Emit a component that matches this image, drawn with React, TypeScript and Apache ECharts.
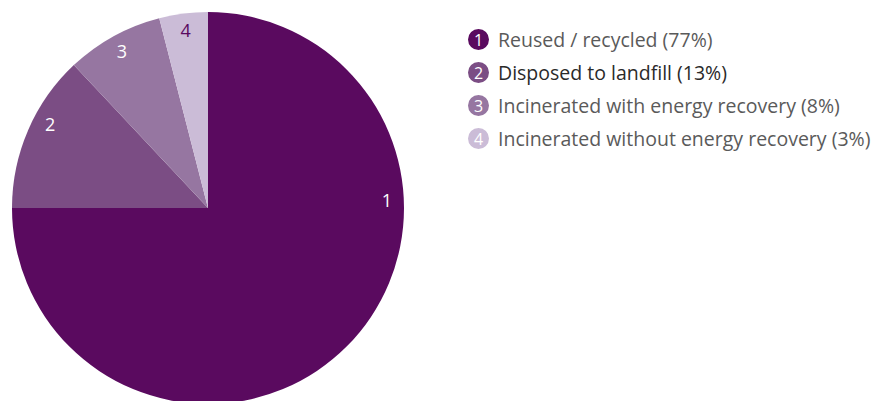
import React, { useEffect, useRef } from "react";
import * as echarts from "echarts";

const names = [
  "Reused / recycled (77%)",
  "Disposed to landfill (13%)",
  "Incinerated with energy recovery (8%)",
  "Incinerated without energy recovery (3%)",
];
const values = [75, 13, 8, 4];
const numbers = ["1", "2", "3", "4"];
const colors = ["#5a0a5f", "#7b4d84", "#9676a1", "#cbbcd7"];
const labelColors = ["#ffffff", "#ffffff", "#ffffff", "#5a0a5f"];
const legendTextColors = ["#5a5a5a", "#2a2a2a", "#5a5a5a", "#5a5a5a"];
// where, along each slice (0 = its start, clockwise), the number label sits
const labelAt = [0.324, 0.6, 0.5, 0.5];

const FONT = "'Open Sans', 'Noto Sans', sans-serif";

export default function App() {
  const ref = useRef<HTMLDivElement>(null);
  useEffect(() => {
    if (!ref.current) return;
    const chart = echarts.init(ref.current, null, { renderer: "svg" });

    const rich: any = {};
    colors.forEach((c, i) => {
      rich["c" + i] = {
        width: 21,
        height: 21,
        lineHeight: 21,
        borderRadius: 10.5,
        backgroundColor: c,
        color: "#ffffff",
        align: "center",
        fontSize: 16,
        fontFamily: FONT,
      };
      rich["t" + i] = {
        color: legendTextColors[i],
        fontSize: 19.5,
        fontFamily: FONT,
        fontWeight: i === 1 ? 500 : 400,
        padding: [0, 0, 0, 9],
      };
    });

    // transparent overlay ring carrying the number labels; each slice is split
    // so that the label sits at the chosen point along the slice
    const overlayData: any[] = [];
    values.forEach((v, i) => {
      const p = labelAt[i];
      const labeled = p <= 0.5 ? 2 * p : 2 * (1 - p);
      const before = p <= 0.5 ? 0 : 1 - labeled;
      const after = 1 - labeled - before;
      if (before > 0) overlayData.push({ value: v * before, name: `b${i}`, label: { show: false } });
      overlayData.push({
        value: v * labeled,
        name: `l${i}`,
        label: { show: true, formatter: numbers[i], color: labelColors[i] },
      });
      if (after > 1e-9) overlayData.push({ value: v * after, name: `a${i}`, label: { show: false } });
    });

    chart.setOption({
      animation: false,
      legend: {
        orient: "vertical",
        left: 458,
        top: 24,
        icon: "none",
        itemWidth: 0,
        itemHeight: 21,
        itemGap: 12,
        selectedMode: false,
        data: names,
        formatter: (name: string) => {
          const i = names.indexOf(name);
          return `{c${i}|${numbers[i]}}{t${i}|${name}}`;
        },
        textStyle: { rich, fontFamily: FONT },
      },
      series: [
        {
          type: "pie",
          center: [208, 208],
          radius: 196,
          startAngle: 90,
          clockwise: true,
          label: { show: false },
          labelLine: { show: false },
          silent: true,
          data: values.map((v, i) => ({
            value: v,
            name: names[i],
            itemStyle: { color: colors[i] },
          })),
        },
        {
          type: "pie",
          center: [208, 208],
          radius: [157, 195],
          startAngle: 90,
          clockwise: true,
          silent: true,
          itemStyle: { color: "transparent" },
          label: {
            position: "inside",
            fontSize: 18,
            fontFamily: FONT,
          },
          labelLine: { show: false },
          data: overlayData,
        },
      ],
    });
    return () => chart.dispose();
  }, []);
  return (
    <div
      ref={ref}
      style={{ position: "absolute", left: 0, top: 0, width: 874, height: 401 }}
    />
  );
}
